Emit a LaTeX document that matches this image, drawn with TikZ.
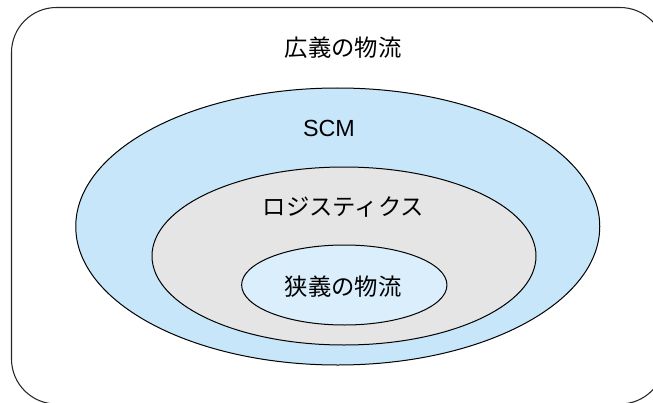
\documentclass[tikz,border=0pt]{standalone}
\usepackage{fontspec}
\setmainfont{Liberation Sans}
\newfontfamily\jpfont{Noto Sans CJK JP}
\usetikzlibrary{shapes.geometric}
\definecolor{scmblue}{RGB}{200,230,250}
\definecolor{logigray}{RGB}{229,229,229}
\definecolor{narrowblue}{RGB}{218,238,252}
\tikzset{
  ring/.style={ellipse, draw=black, line width=0.75pt, inner sep=0pt},
  jplabel/.style={font=\jpfont\fontsize{17.5}{20}\selectfont, inner sep=0pt, text=black},
  enlabel/.style={font=\fontsize{17.5}{20}\selectfont, inner sep=0pt, text=black}
}
\begin{document}
\begin{tikzpicture}[x=0.75pt, y=-0.75pt]
\useasboundingbox (0,0) rectangle (653,403);
\fill[white] (0,0) rectangle (653,403);
\begin{scope}
\clip (0,0) rectangle (653,403);
\draw[line width=0.8pt, draw=black!85, rounded corners=33.75pt] (11.5,7.5) rectangle (665,404);
\end{scope}
\node[ring, fill=scmblue, minimum width=393pt, minimum height=207.75pt] (scm) at (337.75,226.5) {};
\node[ring, fill=logigray, minimum width=288pt, minimum height=133.5pt] (logi) at (344,256) {};
\node[ring, fill=narrowblue, minimum width=154pt, minimum height=60pt] (narrow) at (344.3,285) {};
\node[jplabel] (broadtxt) at (343,48) {広義の物流};
\node[enlabel] (scmtxt) at (329,128) {SCM};
\node[jplabel] (logitxt) at (343.4,206.7) {ロジスティクス};
\node[jplabel] (narrowtxt) at (343,287) {狭義の物流};
\end{tikzpicture}
\end{document}
